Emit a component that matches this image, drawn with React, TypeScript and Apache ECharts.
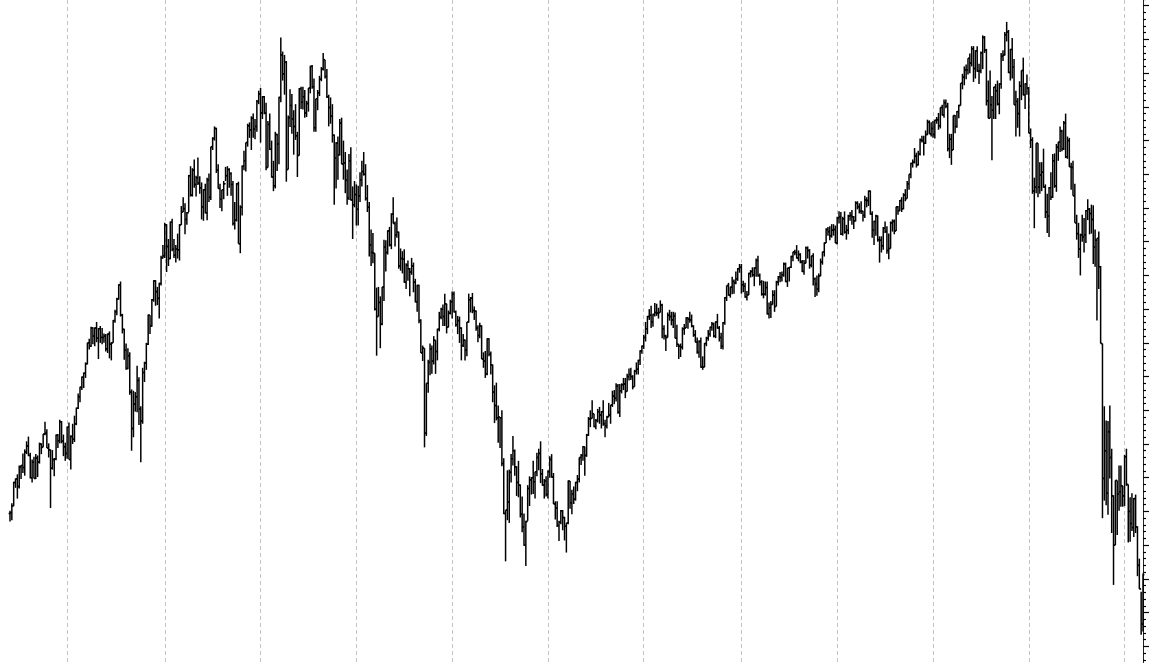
import React, { useEffect, useRef } from "react";
import * as echarts from "echarts";

// Weekly S&P-style bars: each entry is [high, low, close].
// The open of each week is the previous week's close.
const firstOpen = 847;

const y1997 = [
  [851, 835, 848], [862, 837, 858], [894, 858, 893], [899, 885, 898], [905, 869, 887],
  [918, 884, 916], [919, 898, 918], [936, 907, 915], [942, 903, 938], [954, 935, 947],
  [961, 932, 933], [937, 899, 900], [927, 893, 923], [931, 899, 899], [935, 898, 929],
  [933, 901, 923], [952, 921, 950], [951, 935, 945], [965, 945, 965], [983, 963, 966],
  [972, 944, 944], [951, 930, 941], [942, 855, 914], [941, 912, 927], [929, 902, 928],
  [964, 926, 963], [965, 944, 955], [986, 951, 983], [984, 951, 954], [964, 932, 946],
  [952, 925, 936],
];

const y1998 = [
  [976, 928, 975], [982, 927, 927], [963, 912, 961], [980, 950, 957], [992, 953, 980],
  [1004, 978, 1003], [1025, 1002, 1020], [1035, 1012, 1034], [1050, 1030, 1049],
  [1056, 1033, 1055], [1071, 1048, 1069], [1100, 1068, 1100], [1106, 1090, 1095],
  [1124, 1094, 1122], [1123, 1098, 1110], [1123, 1095, 1122], [1131, 1101, 1107],
  [1122, 1076, 1121], [1125, 1100, 1108], [1122, 1098, 1108], [1114, 1100, 1110], [1113, 1087, 1091],
  [1114, 1085, 1113], [1117, 1077, 1098], [1101, 1074, 1100], [1134, 1100, 1133],
  [1149, 1130, 1146], [1167, 1141, 1165], [1187, 1164, 1186], [1191, 1139, 1141], [1143, 1114, 1120],
  [1121, 1075, 1089], [1099, 1060, 1062], [1092, 1061, 1081], [1086, 1023, 1027],
  [1031, 940, 973], [1029, 960, 1009], [1027, 998, 1020], [1066, 997, 1044],
  [1049, 978, 1002], [1006, 923, 984], [1063, 980, 1056], [1072, 1042, 1070], [1100, 1060, 1098],
  [1142, 1097, 1141], [1141, 1113, 1125], [1165, 1124, 1164], [1193, 1161, 1192],
  [1193, 1155, 1176], [1183, 1156, 1166], [1189, 1136, 1188], [1229, 1185, 1226], [1245, 1225, 1229],
];

const y1999 = [
  [1278, 1226, 1275], [1276, 1205, 1243], [1254, 1214, 1225], [1280, 1224, 1279],
  [1284, 1236, 1239], [1254, 1226, 1230], [1245, 1219, 1239], [1262, 1225, 1238],
  [1276, 1222, 1275], [1303, 1275, 1294], [1316, 1294, 1299], [1307, 1261, 1283],
  [1294, 1275, 1293], [1349, 1294, 1348], [1362, 1317, 1319], [1359, 1317, 1356], [1372, 1330, 1335],
  [1348, 1317, 1345], [1375, 1334, 1337], [1347, 1321, 1330], [1338, 1283, 1302],
  [1328, 1281, 1327], [1336, 1292, 1293], [1345, 1282, 1342], [1351, 1309, 1316],
  [1391, 1312, 1391], [1405, 1386, 1403], [1421, 1400, 1418], [1419, 1352, 1356], [1365, 1329, 1329],
  [1336, 1300, 1313], [1327, 1295, 1327], [1340, 1313, 1336], [1361, 1340, 1348],
  [1362, 1318, 1357], [1359, 1330, 1351], [1353, 1318, 1335], [1340, 1274, 1277],
  [1309, 1268, 1282], [1337, 1280, 1336], [1339, 1247, 1247], [1304, 1233, 1301], [1363, 1289, 1362],
  [1385, 1356, 1370], [1397, 1354, 1397], [1425, 1391, 1422], [1427, 1404, 1416],
  [1436, 1386, 1433], [1440, 1404, 1417], [1432, 1402, 1421], [1460, 1413, 1458], [1474, 1454, 1469],
];

const y2000 = [
  [1478, 1397, 1441], [1466, 1432, 1465], [1466, 1439, 1441], [1456, 1356, 1360],
  [1429, 1360, 1424], [1440, 1386, 1387], [1400, 1345, 1346], [1370, 1325, 1333],
  [1413, 1329, 1409], [1410, 1355, 1395], [1465, 1365, 1464], [1553, 1457, 1527], [1532, 1489, 1499],
  [1527, 1468, 1516], [1518, 1339, 1357], [1437, 1357, 1434], [1476, 1420, 1452],
  [1469, 1410, 1432], [1445, 1379, 1421], [1454, 1401, 1407], [1413, 1346, 1378],
  [1478, 1378, 1477], [1480, 1447, 1457], [1480, 1446, 1465], [1475, 1434, 1441], [1459, 1435, 1455],
  [1478, 1443, 1478], [1511, 1470, 1510], [1512, 1477, 1480], [1492, 1413, 1419],
  [1462, 1413, 1462], [1475, 1445, 1471], [1496, 1466, 1491], [1509, 1488, 1506],
  [1530, 1504, 1520], [1520, 1492, 1495], [1506, 1463, 1465], [1468, 1421, 1449], [1464, 1425, 1436],
  [1454, 1397, 1408], [1409, 1305, 1374], [1398, 1329, 1396], [1406, 1342, 1379],
  [1432, 1378, 1426], [1434, 1365, 1365], [1400, 1342, 1367], [1383, 1322, 1341],
  [1357, 1305, 1315], [1380, 1312, 1370], [1390, 1311, 1312], [1332, 1254, 1305], [1340, 1301, 1320],
];

const y2001 = [
  [1335, 1274, 1298], [1333, 1274, 1318], [1353, 1309, 1342], [1370, 1332, 1354],
  [1383, 1348, 1350], [1365, 1311, 1314], [1334, 1294, 1301], [1309, 1228, 1245],
  [1268, 1214, 1234], [1263, 1218, 1233], [1233, 1148, 1150], [1182, 1081, 1139], [1183, 1139, 1160],
  [1169, 1092, 1128], [1183, 1126, 1183], [1253, 1162, 1242], [1252, 1206, 1234],
  [1267, 1231, 1266], [1272, 1243, 1245], [1292, 1239, 1291], [1316, 1277, 1277],
  [1280, 1243, 1260], [1286, 1256, 1264], [1265, 1210, 1214], [1240, 1207, 1225], [1236, 1203, 1224],
  [1239, 1189, 1190], [1218, 1180, 1215], [1222, 1192, 1210], [1211, 1169, 1205],
  [1226, 1201, 1214], [1219, 1175, 1190], [1195, 1160, 1161], [1186, 1146, 1185], [1186, 1129, 1133],
  [1135, 1085, 1085], [1096, 1073, 1092], [1092, 945, 966], [1040, 962, 1040],
  [1075, 1026, 1071], [1099, 1052, 1091], [1096, 1054, 1073], [1110, 1068, 1104],
  [1104, 1054, 1087], [1121, 1074, 1120], [1146, 1117, 1138], [1152, 1135, 1150], [1157, 1125, 1139],
  [1173, 1125, 1158], [1158, 1114, 1123], [1148, 1123, 1144], [1164, 1142, 1161],
];

const y2002 = [
  [1176, 1136, 1172], [1176, 1145, 1146], [1148, 1124, 1127], [1140, 1113, 1133],
  [1139, 1100, 1122], [1123, 1074, 1096], [1113, 1094, 1104], [1105, 1074, 1089],
  [1131, 1080, 1131], [1173, 1130, 1164], [1168, 1145, 1166], [1174, 1144, 1148], [1154, 1134, 1147],
  [1148, 1118, 1122], [1126, 1101, 1111], [1130, 1107, 1125], [1126, 1076, 1076],
  [1086, 1063, 1073], [1088, 1048, 1054], [1107, 1052, 1106], [1107, 1080, 1083], [1087, 1053, 1067],
  [1068, 1012, 1027], [1037, 981, 1007], [1041, 985, 989], [1007, 952, 990],
  [989, 944, 989], [1000, 917, 921], [929, 846, 847], [852, 776, 852],
  [911, 837, 864], [912, 833, 908], [935, 893, 928], [962, 918, 940], [942, 903, 916],
  [917, 873, 893], [925, 871, 889], [890, 841, 846], [872, 819, 827],
  [847, 799, 800], [836, 769, 835], [889, 836, 884], [902, 858, 897],
  [901, 875, 900], [925, 876, 894], [909, 869, 909], [937, 902, 930], [943, 911, 936],
  [954, 892, 906], [913, 888, 889], [898, 869, 895], [902, 872, 875],
];

const y2003 = [
  [911, 869, 909], [932, 900, 927], [935, 900, 901], [907, 861, 861], [865, 838, 855],
  [865, 827, 829], [836, 806, 834], [852, 831, 851], [852, 822, 841],
  [842, 807, 828], [833, 789, 833], [896, 831, 895], [895, 854, 863],
  [882, 846, 876], [887, 861, 868], [894, 866, 893], [904, 880, 898],
  [930, 893, 930], [935, 919, 933], [947, 925, 946], [946, 903, 933], [965, 931, 963],
  [990, 962, 987], [1000, 975, 988], [1015, 988, 995], [995, 975, 976],
  [987, 972, 985], [1002, 982, 998], [1005, 980, 993], [999, 973, 998],
  [1015, 977, 980], [986, 960, 977], [992, 973, 990], [1011, 990, 993], [1008, 980, 1008],
  [1029, 1005, 1021], [1030, 1009, 1018], [1040, 1013, 1036], [1039, 995, 997],
  [1039, 990, 1029], [1040, 1025, 1038], [1048, 1030, 1039], [1048, 1018, 1028], [1054, 1028, 1050],
  [1062, 1044, 1053], [1063, 1045, 1050], [1052, 1031, 1035], [1060, 1035, 1058],
  [1071, 1053, 1061], [1075, 1053, 1074], [1089, 1067, 1088], [1096, 1084, 1095],
];

const y2004 = [
  [1112, 1091, 1108], [1131, 1102, 1121], [1140, 1113, 1139], [1150, 1134, 1141], [1155, 1122, 1131],
  [1143, 1124, 1142], [1159, 1139, 1145], [1158, 1140, 1144], [1152, 1136, 1145],
  [1163, 1145, 1156], [1158, 1107, 1121], [1126, 1105, 1110], [1112, 1088, 1108],
  [1145, 1108, 1141], [1149, 1133, 1139], [1146, 1126, 1134], [1146, 1122, 1140], [1145, 1107, 1107],
  [1127, 1094, 1098], [1098, 1076, 1095], [1099, 1079, 1094], [1123, 1090, 1121],
  [1128, 1112, 1122], [1138, 1122, 1137], [1138, 1121, 1135], [1146, 1130, 1134],
  [1142, 1123, 1125], [1126, 1109, 1112], [1119, 1101, 1101], [1108, 1084, 1086], [1104, 1078, 1102],
  [1108, 1063, 1064], [1080, 1060, 1064], [1100, 1064, 1099], [1109, 1095, 1107],
  [1119, 1103, 1113], [1124, 1109, 1123], [1131, 1118, 1128], [1130, 1108, 1110],
  [1132, 1107, 1131], [1143, 1121, 1122], [1125, 1102, 1108], [1115, 1091, 1095], [1131, 1090, 1130],
  [1168, 1127, 1167], [1185, 1162, 1185], [1189, 1170, 1171], [1183, 1167, 1183],
  [1198, 1172, 1191], [1194, 1173, 1189], [1206, 1187, 1195], [1211, 1192, 1210], [1217, 1204, 1212],
];

const y2005 = [
  [1217, 1173, 1186], [1192, 1175, 1184], [1189, 1167, 1168], [1177, 1163, 1171],
  [1204, 1171, 1203], [1208, 1197, 1206], [1212, 1198, 1201], [1212, 1184, 1211],
  [1225, 1198, 1222], [1229, 1198, 1200], [1203, 1185, 1190], [1193, 1170, 1172],
  [1192, 1166, 1172], [1191, 1170, 1182], [1191, 1142, 1143], [1160, 1136, 1152], [1162, 1137, 1157],
  [1178, 1157, 1171], [1178, 1146, 1154], [1192, 1154, 1190], [1199, 1185, 1198],
  [1205, 1190, 1197], [1206, 1191, 1201], [1219, 1198, 1217], [1219, 1190, 1191],
  [1211, 1183, 1211], [1212, 1191, 1212], [1229, 1211, 1228], [1235, 1221, 1235], [1238, 1230, 1234],
  [1245, 1225, 1226], [1237, 1221, 1231], [1233, 1218, 1220], [1223, 1205, 1206],
  [1223, 1201, 1218], [1243, 1218, 1241], [1243, 1225, 1237], [1239, 1210, 1215], [1229, 1212, 1229],
  [1233, 1185, 1195], [1197, 1168, 1187], [1200, 1170, 1180], [1203, 1175, 1199],
  [1225, 1199, 1220], [1235, 1216, 1235], [1249, 1228, 1248], [1270, 1248, 1268],
  [1272, 1259, 1265], [1273, 1252, 1259], [1276, 1256, 1267], [1276, 1259, 1268], [1274, 1248, 1248],
];

const y2006 = [
  [1287, 1246, 1285], [1295, 1277, 1287], [1294, 1260, 1261], [1287, 1259, 1284],
  [1295, 1262, 1264], [1275, 1253, 1267], [1290, 1261, 1288], [1294, 1281, 1289],
  [1297, 1275, 1287], [1288, 1269, 1281], [1310, 1280, 1307], [1310, 1298, 1302], [1307, 1292, 1295],
  [1310, 1291, 1295], [1296, 1280, 1289], [1318, 1285, 1312], [1316, 1301, 1311],
  [1326, 1303, 1325], [1326, 1290, 1291], [1295, 1256, 1267], [1281, 1245, 1280],
  [1290, 1259, 1288], [1289, 1250, 1253], [1258, 1219, 1252], [1258, 1234, 1244], [1272, 1238, 1270],
  [1280, 1263, 1265], [1273, 1232, 1237], [1262, 1224, 1240], [1280, 1240, 1278],
  [1283, 1265, 1280], [1283, 1261, 1266], [1302, 1266, 1302], [1303, 1290, 1296],
  [1312, 1296, 1311], [1316, 1294, 1299], [1322, 1298, 1319], [1328, 1310, 1314], [1340, 1314, 1336],
  [1350, 1327, 1350], [1367, 1344, 1366], [1372, 1360, 1368], [1389, 1366, 1377],
  [1382, 1360, 1364], [1385, 1363, 1380], [1403, 1378, 1401], [1407, 1397, 1400],
  [1407, 1378, 1396], [1415, 1395, 1409], [1431, 1408, 1427], [1430, 1410, 1410], [1427, 1406, 1418],
];

const y2007 = [
  [1429, 1404, 1409], [1431, 1403, 1430], [1435, 1425, 1431], [1441, 1416, 1422],
  [1449, 1418, 1449], [1453, 1437, 1438], [1461, 1434, 1456], [1461, 1448, 1451],
  [1456, 1384, 1388], [1410, 1374, 1402], [1410, 1364, 1386], [1437, 1386, 1437], [1438, 1411, 1421],
  [1444, 1419, 1443], [1453, 1433, 1452], [1485, 1452, 1485], [1499, 1476, 1494],
  [1510, 1482, 1505], [1513, 1491, 1505], [1522, 1498, 1522], [1529, 1500, 1515],
  [1540, 1510, 1536], [1540, 1487, 1507], [1534, 1492, 1533], [1540, 1502, 1503], [1514, 1484, 1503],
  [1532, 1500, 1530], [1556, 1506, 1553], [1555, 1530, 1534], [1536, 1452, 1459],
  [1489, 1433, 1433], [1504, 1433, 1453], [1466, 1371, 1445], [1480, 1432, 1479], [1484, 1432, 1474],
  [1489, 1452, 1454], [1485, 1439, 1484], [1530, 1477, 1525], [1534, 1518, 1527],
  [1561, 1526, 1557], [1576, 1547, 1561], [1564, 1500, 1501], [1536, 1489, 1535],
  [1552, 1492, 1509], [1521, 1453, 1453], [1474, 1406, 1458], [1463, 1419, 1440], [1488, 1406, 1481],
  [1504, 1460, 1504], [1523, 1467, 1468], [1485, 1447, 1484], [1498, 1468, 1478],
];

const y2008 = [
  [1479, 1411, 1411], [1418, 1389, 1401], [1405, 1321, 1325], [1345, 1270, 1331],
  [1396, 1322, 1396], [1396, 1316, 1331], [1368, 1321, 1349], [1368, 1325, 1353], [1388, 1330, 1331],
  [1335, 1285, 1294], [1321, 1263, 1288], [1331, 1257, 1330], [1353, 1312, 1316],
  [1380, 1315, 1370], [1381, 1330, 1333], [1395, 1324, 1390], [1398, 1370, 1398],
  [1421, 1383, 1414], [1416, 1384, 1388], [1429, 1386, 1426], [1440, 1374, 1376], [1406, 1373, 1400],
  [1404, 1361, 1361], [1367, 1327, 1360], [1370, 1318, 1318], [1336, 1278, 1278],
  [1290, 1253, 1262], [1278, 1226, 1239], [1262, 1200, 1260], [1290, 1250, 1257],
  [1285, 1234, 1260], [1297, 1248, 1296], [1313, 1282, 1298], [1300, 1261, 1292], [1305, 1262, 1283],
  [1304, 1217, 1242], [1268, 1213, 1252], [1255, 1133, 1255], [1265, 1180, 1213],
  [1214, 1099, 1099], [1099, 840, 899], [1006, 866, 940], [985, 859, 877], [984, 845, 968],
  [1007, 899, 930], [943, 818, 873], [874, 741, 800], [896, 800, 896],
  [896, 815, 876], [918, 851, 879], [918, 857, 888], [888, 857, 873],
];

const y2009 = [
  [934, 858, 931], [943, 888, 890], [890, 804, 850], [871, 805, 832], [877, 821, 826],
  [870, 812, 869], [875, 818, 827], [828, 754, 770], [780, 735, 735],
  [731, 667, 683], [758, 672, 756],
];

const years: [number, number[][]][] = [
  [1997, y1997], [1998, y1998], [1999, y1999], [2000, y2000], [2001, y2001],
  [2002, y2002], [2003, y2003], [2004, y2004], [2005, y2005], [2006, y2006],
  [2007, y2007], [2008, y2008], [2009, y2009],
];

const categories: string[] = [];
const yearStart = new Set<number>();
const ohlc: number[][] = [];
{
  let prev = firstOpen;
  years.forEach(([yr, arr], yi) => {
    if (yi > 0) yearStart.add(categories.length);
    arr.forEach(([h, l, c], i) => {
      ohlc.push([categories.length, prev, h, l, c]);
      categories.push(`${yr} W${i + 1}`);
      prev = c;
    });
  });
}

export default function App() {
  const ref = useRef<HTMLDivElement>(null);
  useEffect(() => {
    document.body.style.overflow = "hidden";
    if (!ref.current) return;
    const chart = echarts.init(ref.current, undefined, { renderer: "svg" });
    const tick = 1.4;
    chart.setOption({
      animation: false,
      backgroundColor: "#ffffff",
      grid: { left: 10, right: 27, top: 0, bottom: 0, containLabel: false },
      xAxis: {
        type: "category",
        data: categories,
        boundaryGap: false,
        axisLine: { show: false },
        axisTick: { show: false },
        axisLabel: { show: false },
        splitLine: {
          show: true,
          interval: (idx: number) => yearStart.has(idx),
          lineStyle: { color: "#c4c4c4", type: [4, 3], width: 1 },
        },
      },
      yAxis: {
        type: "value",
        position: "right",
        min: 600,
        max: 1650,
        interval: 50,
        axisLine: { show: true, lineStyle: { color: "#222", width: 1 } },
        axisTick: { show: true, length: 6, inside: false, lineStyle: { color: "#000", width: 1.2 } },
        minorTick: { show: true, splitNumber: 5, length: 3, lineStyle: { color: "#000", width: 1.2 } },
        axisLabel: { show: false },
        splitLine: { show: false },
      },
      series: [
        {
          type: "custom",
          data: ohlc,
          encode: { x: 0, y: [1, 2, 3, 4] },
          clip: false,
          renderItem: (params: any, api: any) => {
            const idx = api.value(0);
            const x = api.coord([idx, api.value(1)])[0];
            const yo = api.coord([idx, api.value(1)])[1];
            const yh = api.coord([idx, api.value(2)])[1];
            const yl = api.coord([idx, api.value(3)])[1];
            const yc = api.coord([idx, api.value(4)])[1];
            const style = { stroke: "#000", lineWidth: 1.5 };
            return {
              type: "group",
              children: [
                { type: "line", shape: { x1: x, y1: yh, x2: x, y2: yl }, style },
                { type: "line", shape: { x1: x - tick, y1: yo, x2: x, y2: yo }, style },
                { type: "line", shape: { x1: x, y1: yc, x2: x + tick, y2: yc }, style },
              ],
            };
          },
        },
      ],
    });
    return () => chart.dispose();
  }, []);
  return (
    <div
      ref={ref}
      style={{ position: "fixed", left: 0, top: -27.7, width: 1170, height: 707.9, background: "#fff" }}
    />
  );
}
